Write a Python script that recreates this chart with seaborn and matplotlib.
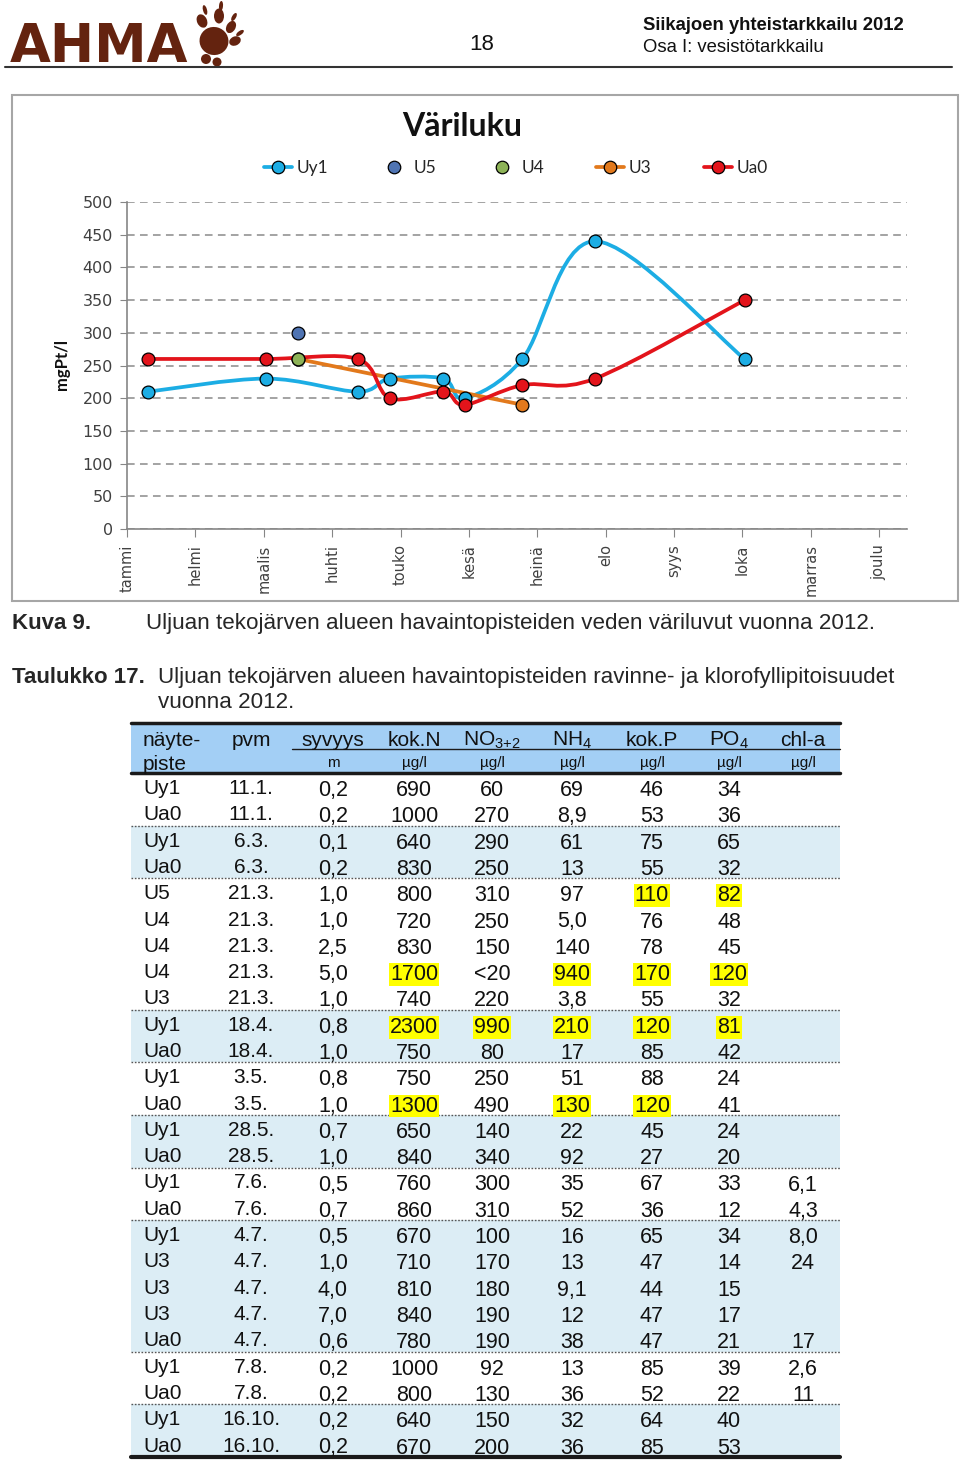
# === IMPORTS ===
import numpy as np
import pandas as pd
import matplotlib
matplotlib.use("Agg")
import matplotlib.pyplot as plt
import seaborn as sns
from matplotlib.path import Path
from matplotlib.patches import PathPatch, Rectangle, Ellipse
from matplotlib.lines import Line2D

# === SETTINGS ===
sns.set_style("white")
plt.rcParams["font.family"] = ["Liberation Sans", "DejaVu Sans"]
plt.rcParams["mathtext.fontset"] = "custom"
plt.rcParams["mathtext.rm"] = "Liberation Sans"
plt.rcParams["mathtext.default"] = "regular"

# === 1. CHART DATA (Väriluku, mgPt/l) ===
months = ["tammi", "helmi", "maalis", "huhti", "touko", "kesä",
          "heinä", "elo", "syys", "loka", "marras", "joulu"]
sample_dates = ["11.1.", "6.3.", "18.4.", "3.5.", "28.5.", "7.6.", "4.7.", "7.8.", "16.10."]
uy1_colour = [210, 230, 210, 230, 230, 200, 260, 440, 260]
ua0_colour = [260, 260, 260, 200, 210, 190, 220, 230, 350]
u5_dates = ["21.3."]
u5_colour = [300]
u4_dates = ["21.3."]
u4_colour = [260]
u3_dates = ["21.3.", "4.7."]
u3_colour = [260, 190]

# === 2. TABLE DATA (Taulukko 17) ===
head_names = ["näyte-", "pvm", "syvyys", "kok.N", "NO$_{3{+}2}$", "NH$_4$", "kok.P", "PO$_4$", "chl-a"]
head_units = ["piste", "", "m", "µg/l", "µg/l", "µg/l", "µg/l", "µg/l", "µg/l"]
stations = ["Uy1", "Ua0", "Uy1", "Ua0", "U5", "U4", "U4", "U4", "U3", "Uy1", "Ua0", "Uy1", "Ua0",
            "Uy1", "Ua0", "Uy1", "Ua0", "Uy1", "U3", "U3", "U3", "Ua0", "Uy1", "Ua0", "Uy1", "Ua0"]
pvm = ["11.1.", "11.1.", "6.3.", "6.3.", "21.3.", "21.3.", "21.3.", "21.3.", "21.3.", "18.4.", "18.4.",
       "3.5.", "3.5.", "28.5.", "28.5.", "7.6.", "7.6.", "4.7.", "4.7.", "4.7.", "4.7.", "4.7.",
       "7.8.", "7.8.", "16.10.", "16.10."]
depth = ["0,2", "0,2", "0,1", "0,2", "1,0", "1,0", "2,5", "5,0", "1,0", "0,8", "1,0", "0,8", "1,0",
         "0,7", "1,0", "0,5", "0,7", "0,5", "1,0", "4,0", "7,0", "0,6", "0,2", "0,2", "0,2", "0,2"]
tot_n = ["690", "1000", "640", "830", "800", "720", "830", "1700", "740", "2300", "750", "750", "1300",
         "650", "840", "760", "860", "670", "710", "810", "840", "780", "1000", "800", "640", "670"]
no3 = ["60", "270", "290", "250", "310", "250", "150", "<20", "220", "990", "80", "250", "490",
       "140", "340", "300", "310", "100", "170", "180", "190", "190", "92", "130", "150", "200"]
nh4 = ["69", "8,9", "61", "13", "97", "5,0", "140", "940", "3,8", "210", "17", "51", "130",
       "22", "92", "35", "52", "16", "13", "9,1", "12", "38", "13", "36", "32", "36"]
tot_p = ["46", "53", "75", "55", "110", "76", "78", "170", "55", "120", "85", "88", "120",
         "45", "27", "67", "36", "65", "47", "44", "47", "47", "85", "52", "64", "85"]
po4 = ["34", "36", "65", "32", "82", "48", "45", "120", "32", "81", "42", "24", "41",
       "24", "20", "33", "12", "34", "14", "15", "17", "21", "39", "22", "40", "53"]
chla = ["", "", "", "", "", "", "", "", "", "", "", "", "",
        "", "", "6,1", "4,3", "8,0", "24", "", "", "17", "2,6", "11", "", ""]
group_sizes = [2, 2, 5, 2, 2, 2, 2, 5, 2, 2]
# (row, value column) cells marked yellow; value columns: 0 syvyys .. 6 chl-a
highlighted = [(4, 4), (4, 5), (7, 1), (7, 3), (7, 4), (7, 5),
               (9, 1), (9, 2), (9, 3), (9, 4), (9, 5), (12, 1), (12, 3), (12, 4)]


def day_of_year(s):
    d, m = s.strip(".").split(".")
    return pd.Timestamp(2012, int(m), int(d)).dayofyear


def smooth_path(xs, ys):
    # Excel-style smoothed line: cubic Bezier through every point
    pts = np.column_stack([xs, ys]).astype(float)
    n = len(pts)
    if n < 3:
        return Path(pts, [Path.MOVETO] + [Path.LINETO] * (n - 1))
    verts, codes = [pts[0]], [Path.MOVETO]
    for i in range(n - 1):
        p0 = pts[i - 1] if i > 0 else pts[i]
        p1, p2 = pts[i], pts[i + 1]
        p3 = pts[i + 2] if i + 2 < n else pts[i + 1]
        verts += [p1 + (p2 - p0) / 6, p2 - (p3 - p1) / 6, p2]
        codes += [Path.CURVE4] * 3
    return Path(verts, codes)


W, H = 960, 1463
fig = plt.figure(figsize=(W / 100, H / 100), dpi=100)

# page layer in pixel coordinates
page = fig.add_axes([0, 0, 1, 1])
page.set_xlim(0, W)
page.set_ylim(H, 0)
page.axis("off")

# === 3. PAGE HEADER ===
brown = "#64230f"
page.text(10, 62, "AHMA", fontsize=38, fontweight="bold", color=brown,
          family="DejaVu Sans", va="baseline", ha="left")
# paw print: pad, toes, claws, small bottom toes
paw = [((214, 41), 29, 28, 15), ((202, 21), 10, 14, -25), ((219, 16), 10, 15, 0),
       ((231, 27), 9, 13, 30), ((235, 41), 9, 12, 65), ((206, 59), 10, 10, 0), ((217, 62), 9, 9, 0),
       ((205, 10), 4, 10, -15), ((221, 6), 4, 10, 5), ((234, 17), 4, 9, 30), ((240, 33), 4, 9, 55)]
for (c, w, h, a) in paw:
    page.add_patch(Ellipse(c, w, h, angle=a, color=brown, lw=0))
page.text(482, 50, "18", fontsize=16, ha="center", va="baseline", color="#111111")
page.text(643, 30, "Siikajoen yhteistarkkailu 2012", fontsize=13.3, fontweight="bold",
          ha="left", va="baseline", color="#111111")
page.text(643, 52, "Osa I: vesistötarkkailu", fontsize=13.3, ha="left", va="baseline", color="#111111")
page.plot([5, 952], [67, 67], color="#333333", lw=1.5)

# === 4. CHART ===
page.add_patch(Rectangle((12, 95), 946, 506, fill=False, ec="#a6a6a6", lw=1.5))
ax = fig.add_axes([127 / W, 1 - 529 / H, 780 / W, 327 / H])
ax.patch.set_alpha(0)

uy1_x = [day_of_year(d) for d in sample_dates]
u3_x = [day_of_year(d) for d in u3_dates]
u5_x = [day_of_year(d) for d in u5_dates]
u4_x = [day_of_year(d) for d in u4_dates]

c_uy1, c_u5, c_u4, c_u3, c_ua0 = "#1cade4", "#4f74b3", "#8db357", "#e2791c", "#e3141b"

ax.add_patch(PathPatch(smooth_path(uy1_x, uy1_colour), fill=False, ec=c_uy1, lw=2.7, zorder=3))
ax.add_patch(PathPatch(smooth_path(u3_x, u3_colour), fill=False, ec=c_u3, lw=2.7, zorder=3.1))
ax.add_patch(PathPatch(smooth_path(uy1_x, ua0_colour), fill=False, ec=c_ua0, lw=2.7, zorder=3.2))

mk = dict(s=85, edgecolor="black", linewidth=0.9, legend=False, clip_on=False)
sns.scatterplot(x=uy1_x, y=uy1_colour, color=c_uy1, ax=ax, zorder=4, **mk)
sns.scatterplot(x=u3_x, y=u3_colour, color=c_u3, ax=ax, zorder=4.1, **mk)
sns.scatterplot(x=u5_x, y=u5_colour, color=c_u5, ax=ax, zorder=4.2, **mk)
sns.scatterplot(x=u4_x, y=u4_colour, color=c_u4, ax=ax, zorder=4.3, **mk)
sns.scatterplot(x=uy1_x, y=ua0_colour, color=c_ua0, ax=ax, zorder=4.4, **mk)

ax.set_xlim(1, 366)
ax.set_ylim(0, 500)
ax.set_yticks(range(0, 501, 50))
ax.set_yticklabels([str(v) for v in range(0, 501, 50)], fontsize=11.5,
                   family="DejaVu Sans", color="#404040")
ax.set_xticks([1 + 32 * k for k in range(len(months))])
ax.set_xticklabels(months, rotation=90, fontsize=10.5, family="DejaVu Sans", color="#404040")
ax.tick_params(axis="y", length=5, color="#868686", pad=5, left=True)
ax.tick_params(axis="x", length=6, color="#868686", pad=5, bottom=True)
ax.yaxis.grid(True, linestyle=(0, (5, 3.5)), color="#8a8a8a", lw=1.1)
ax.xaxis.grid(False)
ax.set_axisbelow(True)
for side in ["top", "right"]:
    ax.spines[side].set_visible(False)
for side in ["left", "bottom"]:
    ax.spines[side].set_color("#868686")
    ax.spines[side].set_linewidth(1.2)
ax.set_xlabel("")
ax.set_ylabel("")

fig.text(462 / W, 1 - 127 / H, "Väriluku", fontsize=23, fontweight="bold",
         family="Lato", ha="center", va="center", color="#111111")
fig.text(62 / W, 1 - 365 / H, "mgPt/l", fontsize=12, fontweight="bold", family="Lato",
         rotation=90, ha="center", va="center", color="#111111")

handles = [
    Line2D([], [], color=c_uy1, lw=2.7, marker="o", ms=9, mec="black", mew=0.9),
    Line2D([], [], color=c_u5, ls="none", marker="o", ms=9, mec="black", mew=0.9),
    Line2D([], [], color=c_u4, ls="none", marker="o", ms=9, mec="black", mew=0.9),
    Line2D([], [], color=c_u3, lw=2.7, marker="o", ms=9, mec="black", mew=0.9),
    Line2D([], [], color=c_ua0, lw=2.7, marker="o", ms=9, mec="black", mew=0.9),
]
fig.legend(handles, ["Uy1", "U5", "U4", "U3", "Ua0"], loc="center",
           bbox_to_anchor=(516 / W, 1 - 168 / H), ncol=5, frameon=False,
           columnspacing=3.0, handlelength=1.6, handletextpad=0.3,
           prop={"family": "Lato", "size": 12.5})

# === 5. CAPTIONS ===
page.text(12, 629, "Kuva 9.", fontsize=16, fontweight="bold", va="baseline")
page.text(146, 629, "Uljuan tekojärven alueen havaintopisteiden veden väriluvut vuonna 2012.",
          fontsize=16.1, va="baseline")
page.text(12, 683, "Taulukko 17.", fontsize=16, fontweight="bold", va="baseline")
page.text(158, 683, "Uljuan tekojärven alueen havaintopisteiden ravinne- ja klorofyllipitoisuudet",
          fontsize=16.1, va="baseline")
page.text(158, 708, "vuonna 2012.", fontsize=16.1, va="baseline")

# === 6. TABLE ===
t_left, t_right = 131, 840
row_top, row_h = 773, 26.3
col_x = [143, 251, 333, 414, 492, 572, 652, 729, 803]
light = "#dcedf5"

page.add_patch(Rectangle((t_left, 723), t_right - t_left, row_top - 723, color="#a3cff5", lw=0))
page.plot([t_left, t_right], [723, 723], color="#1a1a1a", lw=2.5)
page.plot([292, t_right], [749, 749], color="#1a1a1a", lw=1.0)

start = 0
for g, size in enumerate(group_sizes):
    y0 = row_top + start * row_h
    if g % 2 == 1:
        page.add_patch(Rectangle((t_left, y0), t_right - t_left, size * row_h, color=light, lw=0))
    if g > 0:
        page.plot([t_left, t_right], [y0, y0], color="#555555", lw=1.0, ls=(0, (1.2, 1.2)))
    start += size
page.plot([t_left, t_right], [row_top, row_top], color="#1a1a1a", lw=2.5)
page.plot([t_left, t_right], [row_top + len(stations) * row_h] * 2, color="#1a1a1a", lw=3)

for j, (name, unit) in enumerate(zip(head_names, head_units)):
    ha = "left" if j == 0 else "center"
    page.text(col_x[j], 746, name, fontsize=15, ha=ha, va="baseline", color="#111111")
    if j == 0:
        page.text(col_x[j], 770, unit, fontsize=15, ha=ha, va="baseline", color="#111111")
    else:
        page.text(col_x[j], 767, unit, fontsize=11, ha=ha, va="baseline", color="#111111")

value_cols = [depth, tot_n, no3, nh4, tot_p, po4, chla]
for i in range(len(stations)):
    yb = row_top + i * row_h
    page.text(col_x[0], yb + 21, stations[i], fontsize=15, ha="left", va="baseline", color="#111111")
    page.text(col_x[1], yb + 21, pvm[i], fontsize=15, ha="center", va="baseline", color="#111111")
    for k, col in enumerate(value_cols):
        box = None
        if (i, k) in highlighted:
            box = dict(facecolor="#ffff00", edgecolor="none", pad=0.6)
        page.text(col_x[k + 2], yb + 23, col[i], fontsize=15.5, ha="center", va="baseline",
                  color="#111111", bbox=box)

fig.savefig("out.png", dpi=100)
